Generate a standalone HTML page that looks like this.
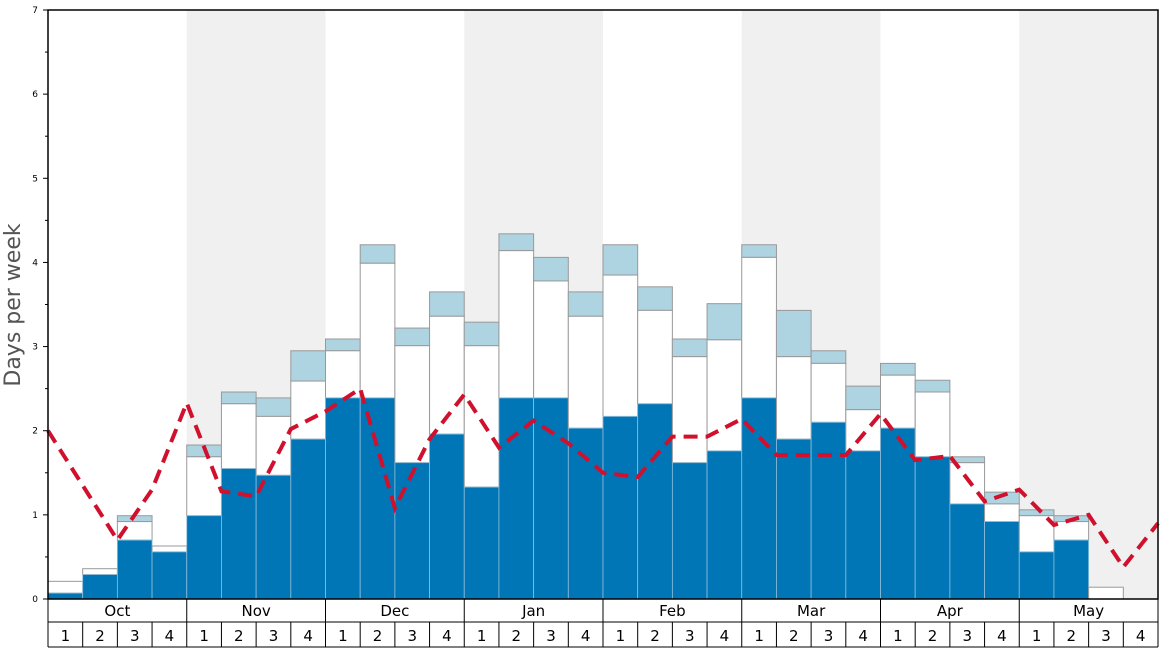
<!DOCTYPE html>
<html><head><meta charset="utf-8"><style>
body{margin:0;background:#fff;}
svg{display:block;font-family:"DejaVu Sans","Liberation Sans",sans-serif;}
</style></head><body>
<svg id="chart" width="1168" height="648" xmlns="http://www.w3.org/2000/svg"></svg>
<script>
const months = ["Oct","Nov","Dec","Jan","Feb","Mar","Apr","May"];
const weekLabels = ["1","2","3","4"];
const yTicks = [0,1,2,3,4,5,6,7];
const blueVals = [0.07,0.29,0.70,0.56, 0.99,1.55,1.47,1.90, 2.39,2.39,1.62,1.96, 1.33,2.39,2.39,2.03, 2.17,2.32,1.62,1.76, 2.39,1.90,2.10,1.76, 2.03,1.69,1.13,0.92, 0.56,0.70,0,0];
const whiteTops = [0.21,0.36,0.92,0.63, 1.69,2.32,2.17,2.59, 2.95,3.99,3.01,3.36, 3.01,4.14,3.78,3.36, 3.85,3.43,2.88,3.08, 4.06,2.88,2.80,2.25, 2.66,2.46,1.62,1.13, 0.99,0.92,0.14,0];
const lightTops = [0.21,0.36,0.99,0.63, 1.83,2.46,2.39,2.95, 3.09,4.21,3.22,3.65, 3.29,4.34,4.06,3.65, 4.21,3.71,3.09,3.51, 4.21,3.43,2.95,2.53, 2.80,2.60,1.69,1.27, 1.06,0.99,0.14,0];
const avgLine = [2.0,1.35,0.7,1.3,2.33,1.28,1.22,2.02,2.23,2.5,1.08,1.9,2.43,1.8,2.12,1.85,1.5,1.45,1.93,1.93,2.14,1.71,1.71,1.71,2.2,1.65,1.7,1.16,1.3,0.88,1.0,0.38,0.9];

const NS="http://www.w3.org/2000/svg";
const svg=document.getElementById('chart');
const X0=48,X1=1158,Y0=599,Y1=10,nW=32;
const ww=(X1-X0)/nW;
const xw=i=>X0+i*ww;
const yv=v=>Y0-(v/7)*(Y0-Y1);
function mk(tag,attrs,parent){const e=document.createElementNS(NS,tag);for(const k in attrs)e.setAttribute(k,attrs[k]);(parent||svg).appendChild(e);return e;}

// background bands
months.forEach((m,mi)=>{if(mi%2===1){
 const r=mk('rect',{x:xw(mi*4),y:Y1,width:ww*4,height:Y0-Y1,fill:'#f0f0f0'});
 
 
}});

// bars
for(let i=0;i<nW;i++){
 const x=xw(i);
 if(lightTops[i]>whiteTops[i]){
  const r=mk('rect',{x:x,y:yv(lightTops[i]),width:ww,height:yv(whiteTops[i])-yv(lightTops[i]),fill:'#aed3e1',stroke:'#999','stroke-width':1});
  
  
 }
 if(whiteTops[i]>blueVals[i]){
  const r=mk('rect',{x:x,y:yv(whiteTops[i]),width:ww,height:yv(blueVals[i])-yv(whiteTops[i]),fill:'#fff',stroke:'#999','stroke-width':1});
  
  
 }
 if(blueVals[i]>0){
  const r=mk('rect',{x:x,y:yv(blueVals[i]),width:ww,height:Y0-yv(blueVals[i]),fill:'#0076b6',stroke:'#8fbedb','stroke-width':0.8});
  
  
 }
}

// avg line
const pts=avgLine.map((v,i)=>xw(i)+','+yv(v)).join(' ');
const pl=mk('polyline',{points:pts,fill:'none',stroke:'#d0102c','stroke-width':4,'stroke-dasharray':'14,8'});



// frame
const fr=mk('rect',{x:X0,y:Y1,width:X1-X0,height:Y0-Y1,fill:'none',stroke:'#000','stroke-width':1.5});



// y ticks
yTicks.forEach(t=>{
 const tl=mk('line',{x1:X0-5,x2:X0,y1:yv(t),y2:yv(t),stroke:'#000'});
 
 
 const tx=mk('text',{x:X0-10,y:yv(t)+3,'font-size':9,'text-anchor':'end',fill:'#000'});
 tx.textContent=t;
 
 
 if(t<7){const m=mk('line',{x1:X0-3,x2:X0,y1:yv(t+0.5),y2:yv(t+0.5),stroke:'#000'});
 
 }
});
const yt=mk('text',{x:20,y:305,'font-size':22,fill:'#555','text-anchor':'middle',transform:'rotate(-90 20 305)'});
yt.textContent='Days per week';



// x axis rows
const ax=mk('g',{});


mk('line',{x1:X0,x2:X1,y1:622,y2:622,stroke:'#000'},ax);
mk('line',{x1:X0,x2:X1,y1:647,y2:647,stroke:'#000'},ax);
mk('line',{x1:X0,x2:X0,y1:Y0,y2:647,stroke:'#000'},ax);
mk('line',{x1:X1,x2:X1,y1:Y0,y2:647,stroke:'#000'},ax);
months.forEach((m,mi)=>{
 mk('line',{x1:xw(mi*4),x2:xw(mi*4),y1:Y0,y2:647,stroke:'#000'},ax);
 const t=mk('text',{x:xw(mi*4)+ww*2,y:616,'font-size':15,'text-anchor':'middle'},ax);
 t.textContent=m;
 
 
 weekLabels.forEach((w,wi)=>{
  const i=mi*4+wi;
  if(wi>0) mk('line',{x1:xw(i),x2:xw(i),y1:622,y2:647,stroke:'#000'},ax);
  const wt=mk('text',{x:xw(i)+ww/2,y:641,'font-size':15,'text-anchor':'middle'},ax);
  wt.textContent=w;
  
  
 });
});
</script>
</body></html>
